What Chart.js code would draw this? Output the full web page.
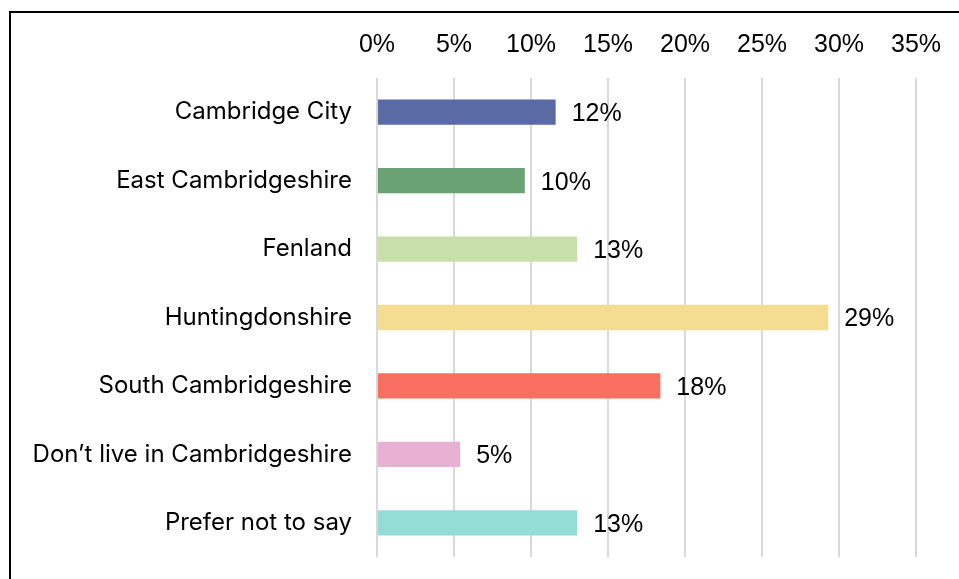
<!DOCTYPE html>
<html>
<head>
<meta charset="utf-8">
<script src="https://cdn.jsdelivr.net/npm/chart.js@4.4.1/dist/chart.umd.min.js"></script>
<style>
  html, body { margin: 0; padding: 0; background: #fff; }
  .wrap { position: relative; width: 959px; height: 579px; overflow: hidden; }
  .frame {
    position: absolute; left: 9px; top: 11px; width: 1000px; height: 600px;
    border-left: 2px solid #000; border-top: 2px solid #000;
  }
  canvas { position: absolute; left: 0; top: 0; }
</style>
</head>
<body>
<div class="wrap">
  <div class="frame"></div>
  <canvas id="graph" width="959" height="579"></canvas>
</div>
<script>
const areas = ['Cambridge City', 'East Cambridgeshire', 'Fenland', 'Huntingdonshire',
  'South Cambridgeshire', 'Don\u2019t live in Cambridgeshire', 'Prefer not to say'];
const shares = [11.6, 9.6, 13.0, 29.3, 18.4, 5.4, 13.0];
const barColors = ['#5a6aa5', '#6aa274', '#c6dfab', '#f4dc90', '#f86e61', '#e8b0d3', '#93ddd6'];
const ticks = [0, 5, 10, 15, 20, 25, 30, 35];

const numFont = { family: "'Liberation Sans', Arial, sans-serif", size: 25 };
const catFont = { family: 'Inter, sans-serif', size: 24 };

// value labels to the right of each bar
const valueLabels = {
  id: 'valueLabels',
  afterDatasetsDraw(chart) {
    const ctx = chart.ctx;
    const meta = chart.getDatasetMeta(0);
    ctx.save();
    ctx.font = numFont.size + 'px ' + numFont.family;
    ctx.fillStyle = '#000';
    ctx.textBaseline = 'middle';
    ctx.textAlign = 'left';
    meta.data.forEach((bar, i) => {
      ctx.fillText(Math.round(shares[i]) + '%', bar.x + 16, bar.y + 2);
    });
    ctx.restore();
  }
};

// keep the plot area edges fixed, no extra room for overhanging labels
const noPad = scale => {
  scale.paddingTop = 0;
  scale.paddingBottom = 0;
  scale.paddingLeft = 0;
  scale.paddingRight = 0;
};

var ctx = document.getElementById('graph').getContext('2d');
var myChart = new Chart(ctx, {
  type: 'bar',
  data: {
    labels: areas,
    datasets: [{
      data: shares,
      backgroundColor: barColors,
      borderWidth: 0,
      categoryPercentage: 1,
      barPercentage: 0.37
    }]
  },
  options: {
    indexAxis: 'y',
    responsive: false,
    animation: false,
    layout: { padding: { left: 0, right: 43, top: 0, bottom: 22 } },
    plugins: { legend: { display: false }, tooltip: { enabled: false } },
    scales: {
      x: {
        position: 'top',
        min: 0,
        max: 35,
        afterBuildTicks(scale) { scale.ticks = ticks.map(v => ({ value: v })); },
        afterFit(scale) { scale.height = 78; noPad(scale); },
        ticks: {
          font: numFont,
          color: '#000',
          padding: 18,
          callback: v => v + '%'
        },
        grid: { color: '#d9d9d9', lineWidth: 2, drawTicks: false },
        border: { display: false }
      },
      y: {
        afterFit(scale) { scale.width = 377; noPad(scale); },
        ticks: { font: catFont, color: '#000', padding: 25 },
        grid: { display: false, drawTicks: false },
        border: { display: false }
      }
    }
  },
  plugins: [valueLabels]
});
</script>
</body>
</html>
